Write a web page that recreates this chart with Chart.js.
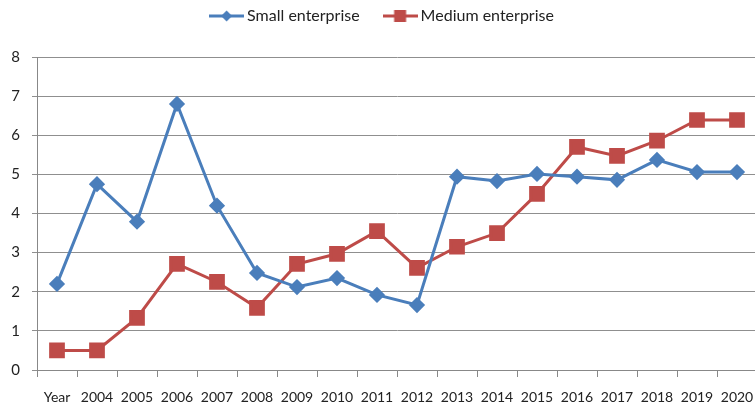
<!DOCTYPE html>
<html>
<head>
<meta charset="utf-8">
<script src="https://cdn.jsdelivr.net/npm/chart.js@4"></script>
<style>
  html, body { margin: 0; padding: 0; background: #fff; overflow: hidden; }
  #wrap { position: relative; width: 769px; height: 411px; }
</style>
</head>
<body>
<div id="wrap"><canvas id="c"></canvas></div>
<script>
const years = ['Year','2004','2005','2006','2007','2008','2009','2010','2011','2012','2013','2014','2015','2016','2017','2018','2019','2020'];
const small = [2.2, 4.75, 3.79, 6.8, 4.2, 2.48, 2.12, 2.35, 1.92, 1.66, 4.94, 4.83, 5.01, 4.94, 4.86, 5.37, 5.06, 5.06];
const medium = [0.5, 0.5, 1.33, 2.71, 2.25, 1.59, 2.71, 2.97, 3.55, 2.61, 3.15, 3.5, 4.5, 5.7, 5.47, 5.86, 6.39, 6.39];

const BLUE = '#4A7EBB', RED = '#BE4B48';
const FONT = 'Lato, "Liberation Sans", sans-serif';

// legend swatch: short line with the marker in the middle
function swatch(color, kind) {
  const cv = document.createElement('canvas');
  cv.width = 35; cv.height = 16;
  const g = cv.getContext('2d');
  g.strokeStyle = color; g.lineWidth = 3;
  g.beginPath(); g.moveTo(0, 8); g.lineTo(35, 8); g.stroke();
  g.fillStyle = color;
  g.beginPath();
  if (kind === 'diamond') {
    g.moveTo(17.5, 2.5); g.lineTo(23, 8); g.lineTo(17.5, 13.5); g.lineTo(12, 8);
  } else {
    g.rect(11.5, 2, 12, 12);
  }
  g.fill();
  return cv;
}

// legend padding is big for the gap between items; draw it higher
// and leave a little more room below it
const legendShift = {
  id: 'legendShift',
  beforeInit(chart) {
    const L = chart.legend;
    const fit = L.fit;
    L.fit = function () { fit.call(this); this.height += 3; };
    const draw = L.draw;
    L.draw = function () {
      const ctx = this.ctx;
      ctx.save(); ctx.translate(0, -20); draw.call(this); ctx.restore();
    };
  }
};

new Chart(document.getElementById('c'), {
  type: 'line',
  data: {
    labels: years,
    datasets: [
      { label: 'Small enterprise', data: small, borderColor: BLUE, backgroundColor: BLUE,
        borderWidth: 3, pointStyle: 'rectRot', pointRadius: 6, pointHoverRadius: 6, tension: 0 },
      { label: 'Medium enterprise', data: medium, borderColor: RED, backgroundColor: RED,
        borderWidth: 3, pointStyle: 'rect', pointRadius: 9, pointHoverRadius: 9, tension: 0 }
    ]
  },
  plugins: [legendShift],
  options: {
    responsive: true,
    maintainAspectRatio: false,
    animation: false,
    layout: { padding: { left: 0, right: 1, top: 0, bottom: 0 } },
    plugins: {
      legend: {
        position: 'top',
        labels: {
          usePointStyle: true,
          pointStyleWidth: 25,
          boxHeight: 16,
          padding: 28,
          color: '#222',
          font: { family: FONT, size: 16 },
          generateLabels: (chart) => chart.data.datasets.map((ds, i) => ({
            text: ds.label,
            pointStyle: swatch(ds.borderColor, i === 0 ? 'diamond' : 'square'),
            fillStyle: ds.borderColor, strokeStyle: ds.borderColor, lineWidth: 0,
            fontColor: '#222', datasetIndex: i, hidden: false
          }))
        }
      },
      tooltip: { enabled: false }
    },
    scales: {
      x: {
        offset: true,
        grid: { display: true, drawOnChartArea: false, drawTicks: true, tickLength: 7, color: '#888', offset: true },
        border: { color: '#888', width: 1 },
        ticks: { color: '#222', font: { family: FONT, size: 14 }, padding: 12, maxRotation: 0, autoSkip: false },
        afterFit: (s) => { s.height = 41; }
      },
      y: {
        min: 0, max: 8,
        ticks: { stepSize: 1, color: '#222', font: { family: FONT, size: 15 }, padding: 12 },
        grid: { color: '#8f8f8f', lineWidth: 1, tickLength: 5 },
        border: { color: '#888', width: 1 },
        afterFit: (s) => { s.width = 37; }
      }
    }
  }
});
</script>
</body>
</html>
